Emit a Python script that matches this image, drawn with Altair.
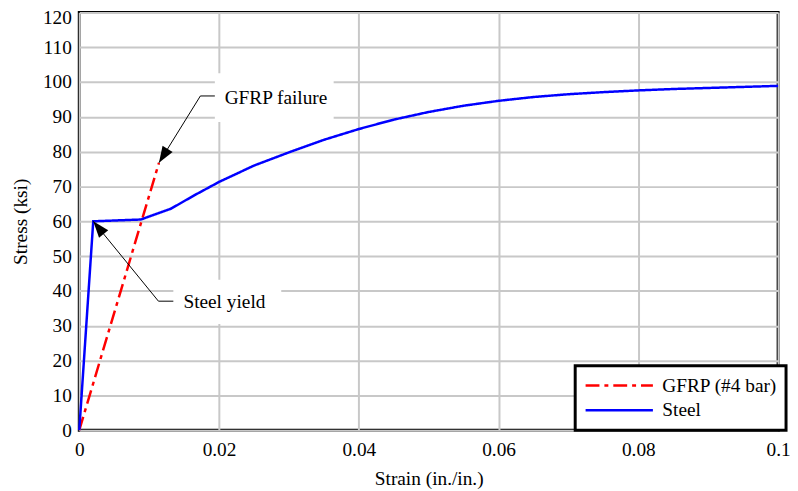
import math
import altair as alt
import pandas as pd

# ---- data ----
steel_strain = [0.0, 0.002, 0.0088, 0.0131, 0.0165, 0.020, 0.025, 0.030, 0.035, 0.040, 0.045,
                0.050, 0.055, 0.060, 0.065, 0.070, 0.075, 0.080, 0.085, 0.090, 0.095, 0.100]
steel_stress = [0.0, 60.0, 60.5, 63.6, 67.5, 71.3, 76.0, 79.8, 83.4, 86.5, 89.2,
                91.4, 93.2, 94.6, 95.7, 96.5, 97.1, 97.6, 98.0, 98.3, 98.6, 98.9]
gfrp_strain = [0.0, 0.0114]
gfrp_stress = [0.0, 76.8]
series_names = ["GFRP (#4 bar)", "Steel"]
series_colors = ["#ff0000", "#0000ff"]

x_ticks = [0, 0.02, 0.04, 0.06, 0.08, 0.1]
y_ticks = [0, 10, 20, 30, 40, 50, 60, 70, 80, 90, 100, 110, 120]

# annotations (data coordinates)
ann_text = ["GFRP failure", "Steel yield"]
ann_text_x = [0.0208, 0.0149]
ann_text_y = [95.4, 36.9]
ann_tip_x = [0.0114, 0.0020]
ann_tip_y = [76.8, 60.0]
ann_elbow_x = [0.01733, 0.01133]
ann_elbow_y = [96.0, 37.05]
ann_end_x = [0.0194, 0.01346]
box_x1 = [0.0194, 0.01346]
box_x2 = [0.0364, 0.0289]
box_y1 = [88.5, 30.5]
box_y2 = [102.5, 43.2]

W, H = 706, 422
XMAX, YMAX = 0.1, 120
FONT = "Liberation Serif"
FS = 19.5

rows = []
for s, v in zip(gfrp_strain, gfrp_stress):
    rows.append({"series": series_names[0], "strain": s, "stress": v})
for s, v in zip(steel_strain, steel_stress):
    rows.append({"series": series_names[1], "strain": s, "stress": v})
df = pd.DataFrame(rows)

lead_rows = []
for i in range(2):
    lead_rows += [
        {"g": i, "o": 0, "x": ann_tip_x[i], "y": ann_tip_y[i]},
        {"g": i, "o": 1, "x": ann_elbow_x[i], "y": ann_elbow_y[i]},
        {"g": i, "o": 2, "x": ann_end_x[i], "y": ann_elbow_y[i]},
    ]
lead_df = pd.DataFrame(lead_rows)

def arrow_angle(i):
    dx = (ann_tip_x[i] - ann_elbow_x[i]) * W / XMAX
    dy = -(ann_tip_y[i] - ann_elbow_y[i]) * H / YMAX
    return math.degrees(math.atan2(dx, -dy)) % 360

head_df = pd.DataFrame({"x": ann_tip_x, "y": ann_tip_y,
                        "a": [arrow_angle(0), arrow_angle(1)]})
box_df = pd.DataFrame({"x1": box_x1, "x2": box_x2, "y1": box_y1, "y2": box_y2})
text_df = pd.DataFrame({"t": ann_text, "x": ann_text_x, "y": ann_text_y})

xscale = alt.Scale(domain=[0, XMAX], nice=False, zero=False)
yscale = alt.Scale(domain=[0, YMAX], nice=False)

xaxis = alt.Axis(values=x_ticks, title="Strain (in./in.)", labelExpr="format(datum.value, '~g')",
                 labelFlush=False, labelOverlap=False, ticks=False, domain=False,
                 labelPadding=11, titlePadding=10, grid=True)
yaxis = alt.Axis(values=y_ticks, title="Stress (ksi)", ticks=False, domain=False,
                 labelOverlap=False, labelFlush=False,
                 labelOffset={"condition": {"test": "datum.value == 120", "value": 5}, "value": 0},
                 labelPadding=8, titlePadding=12, grid=True)


def X(field):
    return alt.X(field, scale=xscale, axis=xaxis)


def Y(field):
    return alt.Y(field, scale=yscale, axis=yaxis)


boxes = alt.Chart(box_df).mark_rect(color="white").encode(
    x=X("x1:Q"), x2="x2:Q", y=Y("y1:Q"), y2="y2:Q")

lines = alt.Chart(df).mark_line(strokeWidth=2.5).encode(
    x=X("strain:Q"),
    y=Y("stress:Q"),
    color=alt.Color("series:N", scale=alt.Scale(domain=series_names, range=series_colors),
                    legend=alt.Legend(title=None)),
    strokeDash=alt.StrokeDash("series:N",
                              scale=alt.Scale(domain=series_names, range=[[14, 5, 4, 5], [1, 0]]),
                              legend=alt.Legend(title=None)),
    order=alt.Order("strain:Q"))

leaders = alt.Chart(lead_df).mark_line(color="black", strokeWidth=1).encode(
    x=X("x:Q"), y=Y("y:Q"), detail="g:N", order="o:Q")

heads = alt.Chart(head_df).mark_point(
    shape="M0,0 L-0.36,1 L0.36,1 Z", filled=True, color="black", opacity=1, size=1100
).encode(x=X("x:Q"), y=Y("y:Q"), angle=alt.Angle("a:Q", scale=None))

texts = alt.Chart(text_df).mark_text(align="left", baseline="middle", font=FONT, fontSize=FS,
                                     color="black").encode(
    x=X("x:Q"), y=Y("y:Q"), text="t:N")

chart = alt.layer(boxes, lines, leaders, heads, texts).properties(
    width=W, height=H,
    autosize=alt.AutoSizeParams(type="none"),
    padding={"left": 72, "top": 2, "right": 12, "bottom": 58},
).configure_view(
    stroke="black", strokeWidth=3
).configure_axis(
    gridColor="#c8c8c8", gridWidth=2, gridOpacity=1,
    labelFont=FONT, labelFontSize=FS, labelColor="black",
    titleFont=FONT, titleFontSize=FS, titleFontWeight="normal", titleColor="black",
).configure_legend(
    orient="none", legendX=501, legendY=357,
    strokeColor="black", strokeWidth=3, fillColor="white", padding=9,
    symbolType="stroke", symbolSize=4624, symbolStrokeWidth=2.5,
    labelFont=FONT, labelFontSize=FS, labelColor="black", labelOffset=8,
    clipHeight=22, rowPadding=3,
)

chart.save("out.html", embed_options={"renderer": "svg", "actions": False})
